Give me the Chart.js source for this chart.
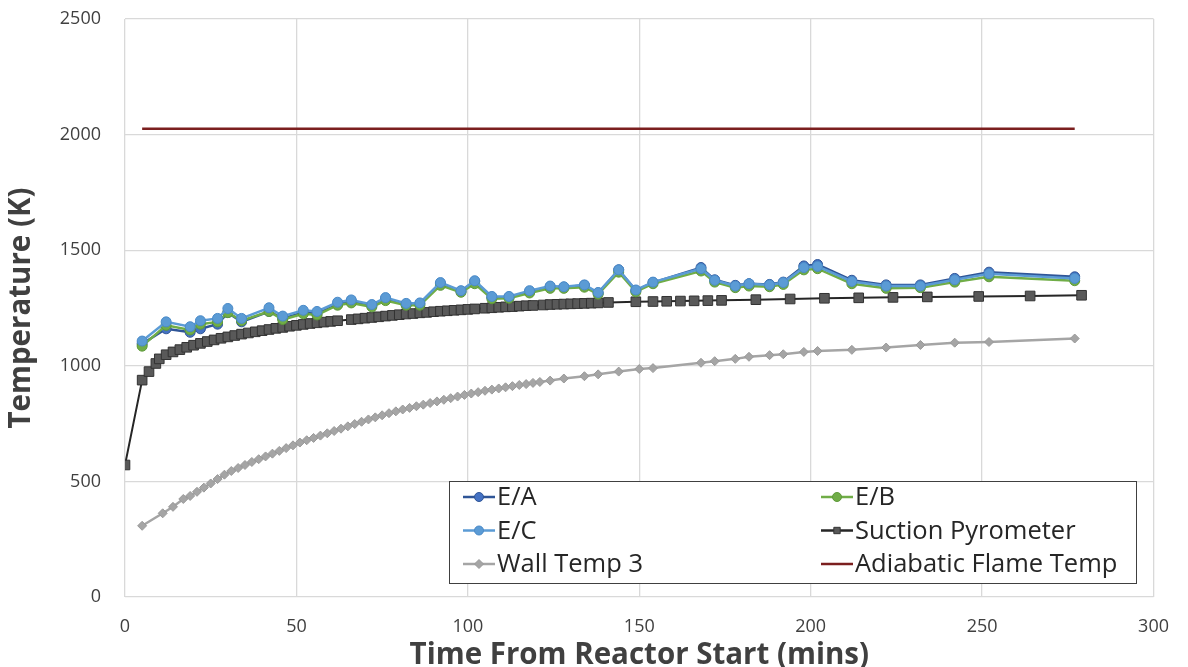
<!DOCTYPE html>
<html>
<head>
<meta charset="utf-8">
<script src="https://cdn.jsdelivr.net/npm/chart.js@4"></script>
<style>
  html, body { margin: 0; padding: 0; background: #fff; }
  #wrap { width: 1188px; height: 667px; }
</style>
</head>
<body>
<div id="wrap"><canvas id="myChart" width="1188" height="667"></canvas></div>
<script>
// sample times for the three emissivity estimates (mins)
const eTimes = [5, 12, 19, 22, 27, 30, 34, 42, 46, 52, 56, 62, 66, 72, 76, 82, 86, 92, 98, 102,
  107, 112, 118, 124, 128, 134, 138, 144, 149, 154, 168, 172, 178, 182, 188, 192, 198, 202,
  212, 222, 232, 242, 252, 277];
const eaTemps = [1095, 1160, 1145, 1160, 1180, 1230, 1190, 1235, 1205, 1230, 1225, 1265, 1280, 1260,
  1290, 1265, 1268, 1355, 1322, 1365, 1297, 1297, 1320, 1342, 1340, 1348, 1315, 1415, 1325, 1360,
  1425, 1372, 1348, 1355, 1352, 1362, 1432, 1438, 1370, 1350, 1350, 1378, 1405, 1385];
const ebTemps = [1085, 1175, 1155, 1180, 1190, 1230, 1195, 1235, 1200, 1225, 1220, 1262, 1272, 1255,
  1282, 1262, 1262, 1348, 1318, 1355, 1290, 1292, 1315, 1335, 1335, 1340, 1310, 1405, 1320, 1355,
  1410, 1362, 1338, 1345, 1342, 1352, 1415, 1420, 1355, 1335, 1338, 1362, 1385, 1368];
const ecTemps = [1107, 1190, 1169, 1195, 1205, 1248, 1205, 1251, 1215, 1240, 1235, 1275, 1285, 1265,
  1295, 1270, 1272, 1360, 1325, 1368, 1300, 1300, 1325, 1345, 1342, 1350, 1317, 1415, 1328, 1362,
  1420, 1370, 1345, 1355, 1350, 1360, 1425, 1430, 1365, 1345, 1345, 1372, 1398, 1378];

// suction pyrometer
const pyroTimes = [0, 5, 7, 9, 10, 12, 14, 16, 18, 20, 22, 24, 26, 28, 30, 32, 34, 36, 38, 40,
  42, 44, 46, 48, 50, 52, 54, 56, 58, 60, 62, 66, 68, 70, 72, 74, 76, 78, 80, 82, 84, 86, 88, 90,
  92, 94, 96, 98, 100, 102, 105, 107, 109, 111, 113, 115, 117, 119, 122, 124, 126, 128, 130, 132,
  134, 136, 138, 141, 149, 154, 158, 162, 166, 170, 174, 184, 194, 204, 214, 224, 234, 249, 264, 279];
const pyroTemps = [571, 938, 975, 1010, 1030, 1048, 1060, 1070, 1080, 1089, 1097, 1105, 1112, 1119,
  1125, 1131, 1137, 1142, 1147, 1152, 1157, 1162, 1166, 1171, 1175, 1179, 1183, 1186, 1189, 1192,
  1195, 1200, 1203, 1206, 1209, 1212, 1215, 1218, 1221, 1224, 1226, 1229, 1231, 1234, 1236, 1238,
  1240, 1242, 1244, 1246, 1249, 1251, 1253, 1255, 1256, 1258, 1260, 1261, 1263, 1265, 1266, 1267,
  1268, 1269, 1270, 1271, 1272, 1274, 1277, 1278, 1279, 1280, 1281, 1282, 1283, 1286, 1289, 1292,
  1294, 1296, 1298, 1300, 1302, 1305];

// wall thermocouple 3
const wallTimes = [5, 11, 14, 17, 19, 21, 23, 25, 27, 29, 31, 33, 35, 37, 39, 41, 43, 45, 47, 49,
  51, 53, 55, 57, 59, 61, 63, 65, 67, 69, 71, 73, 75, 77, 79, 81, 83, 85, 87, 89, 91, 93, 95, 97,
  99, 101, 103, 105, 107, 109, 111, 113, 115, 117, 119, 121, 124, 128, 134, 138, 144, 150, 154,
  168, 172, 178, 182, 188, 192, 198, 202, 212, 222, 232, 242, 252, 277];
const wallTemps = [308, 362, 390, 424, 437, 455, 473, 491, 510, 529, 545, 558, 571, 584, 596, 608,
  620, 632, 644, 656, 668, 678, 688, 698, 708, 718, 728, 738, 748, 758, 768, 777, 786, 795, 803,
  811, 818, 825, 832, 839, 846, 853, 860, 867, 874, 880, 886, 892, 897, 902, 907, 912, 917, 921,
  926, 930, 936, 945, 955, 963, 975, 986, 990, 1013, 1020, 1030, 1039, 1046, 1050, 1060, 1064,
  1069, 1079, 1090, 1100, 1103, 1118];

// adiabatic flame temperature
const flameTimes = [5, 277];
const flameTemps = [2025, 2025];

const toPoints = (xs, ys) => xs.map((x, i) => ({ x: x, y: ys[i] }));

const fontFamily = "'Open Sans', 'Noto Sans', sans-serif";

// legend drawn inside the plot, two columns like the original
const boxLegend = {
  id: 'boxLegend',
  afterDraw(chart) {
    const ctx = chart.ctx;
    const left = 449, top = 481, w = 687, h = 102;
    ctx.save();
    ctx.fillStyle = '#ffffff';
    ctx.fillRect(left, top, w, h);
    ctx.strokeStyle = '#404040';
    ctx.lineWidth = 1;
    ctx.strokeRect(left + 0.5, top + 0.5, w, h);
    ctx.font = '25.5px ' + fontFamily;
    ctx.textBaseline = 'middle';
    chart.data.datasets.forEach((ds, i) => {
      const col = i % 2, row = Math.floor(i / 2);
      const x = col === 0 ? 463 : 821;
      const y = 497 + row * 33.5;
      ctx.strokeStyle = ds.borderColor;
      ctx.lineWidth = 2.5;
      ctx.beginPath();
      ctx.moveTo(x, y);
      ctx.lineTo(x + 32, y);
      ctx.stroke();
      if (ds.pointRadius > 0) {
        ctx.fillStyle = ds.pointBackgroundColor;
        ctx.strokeStyle = ds.pointBorderColor;
        ctx.lineWidth = 1;
        Chart.helpers.drawPoint(ctx, { pointStyle: ds.pointStyle, radius: 4.5, borderWidth: 1 }, x + 16, y);
      }
      ctx.fillStyle = '#262626';
      ctx.fillText(ds.label, x + 34, y + 1);
    });
    ctx.restore();
  }
};

const myChart = document.getElementById('myChart');

new Chart(myChart, {
  type: 'line',
  data: {
    datasets: [
      {
        label: 'E/A', data: toPoints(eTimes, eaTemps), order: 3,
        borderColor: '#2F5597', borderWidth: 2.5,
        pointStyle: 'circle', pointRadius: 5,
        pointBackgroundColor: '#4472C4', pointBorderColor: '#2F5597', pointBorderWidth: 1
      },
      {
        label: 'E/B', data: toPoints(eTimes, ebTemps), order: 2,
        borderColor: '#70AD47', borderWidth: 2.5,
        pointStyle: 'circle', pointRadius: 5,
        pointBackgroundColor: '#70AD47', pointBorderColor: '#5E9A3A', pointBorderWidth: 1
      },
      {
        label: 'E/C', data: toPoints(eTimes, ecTemps), order: 1,
        borderColor: '#5B9BD5', borderWidth: 2.5,
        pointStyle: 'circle', pointRadius: 5,
        pointBackgroundColor: '#5B9BD5', pointBorderColor: '#4A8AC8', pointBorderWidth: 1
      },
      {
        label: 'Suction Pyrometer', data: toPoints(pyroTimes, pyroTemps), order: 4,
        borderColor: '#262626', borderWidth: 2,
        pointStyle: 'rect', pointRadius: 6.8,
        pointBackgroundColor: '#595959', pointBorderColor: '#333333', pointBorderWidth: 1
      },
      {
        label: 'Wall Temp 3', data: toPoints(wallTimes, wallTemps), order: 5,
        borderColor: '#A5A5A5', borderWidth: 2.5,
        pointStyle: 'rectRot', pointRadius: 4.5,
        pointBackgroundColor: '#A5A5A5', pointBorderColor: '#999999', pointBorderWidth: 1
      },
      {
        label: 'Adiabatic Flame Temp', data: toPoints(flameTimes, flameTemps), order: 6,
        borderColor: '#7B1F1F', borderWidth: 2.5,
        pointRadius: 0, pointBackgroundColor: '#7B1F1F', pointBorderColor: '#7B1F1F'
      }
    ]
  },
  options: {
    responsive: false,
    animation: false,
    layout: { padding: { top: 19, right: 33, left: 0, bottom: 0 } },
    plugins: {
      legend: { display: false },
      tooltip: { enabled: false }
    },
    scales: {
      x: {
        type: 'linear', min: 0, max: 300,
        ticks: {
          stepSize: 50, padding: 19, color: '#404040',
          font: { family: fontFamily, size: 18 },
          callback: v => String(v)
        },
        grid: { color: '#D9D9D9', drawTicks: false, lineWidth: 1.3 },
        border: { display: false },
        title: {
          display: true, text: 'Time From Reactor Start (mins)', color: '#404040',
          font: { family: fontFamily, size: 29.5, weight: 'bold', lineHeight: 0.75 }, padding: 0
        },
        afterFit(axis) { axis.height = 70; }
      },
      y: {
        min: 0, max: 2500,
        ticks: {
          stepSize: 500, padding: 24, color: '#404040',
          font: { family: fontFamily, size: 18 },
          callback: v => String(v)
        },
        grid: { color: '#D9D9D9', drawTicks: false, lineWidth: 1.3 },
        border: { display: false },
        title: {
          display: true, text: 'Temperature (K)', color: '#404040',
          font: { family: fontFamily, size: 29.5, weight: 'bold', lineHeight: 1 }, padding: { top: 7, bottom: 0 }
        },
        afterFit(axis) {
          axis.width = 125;
          axis.paddingTop = 0;
          axis.paddingBottom = 0;
        }
      }
    }
  },
  plugins: [boxLegend]
});
</script>
</body>
</html>
